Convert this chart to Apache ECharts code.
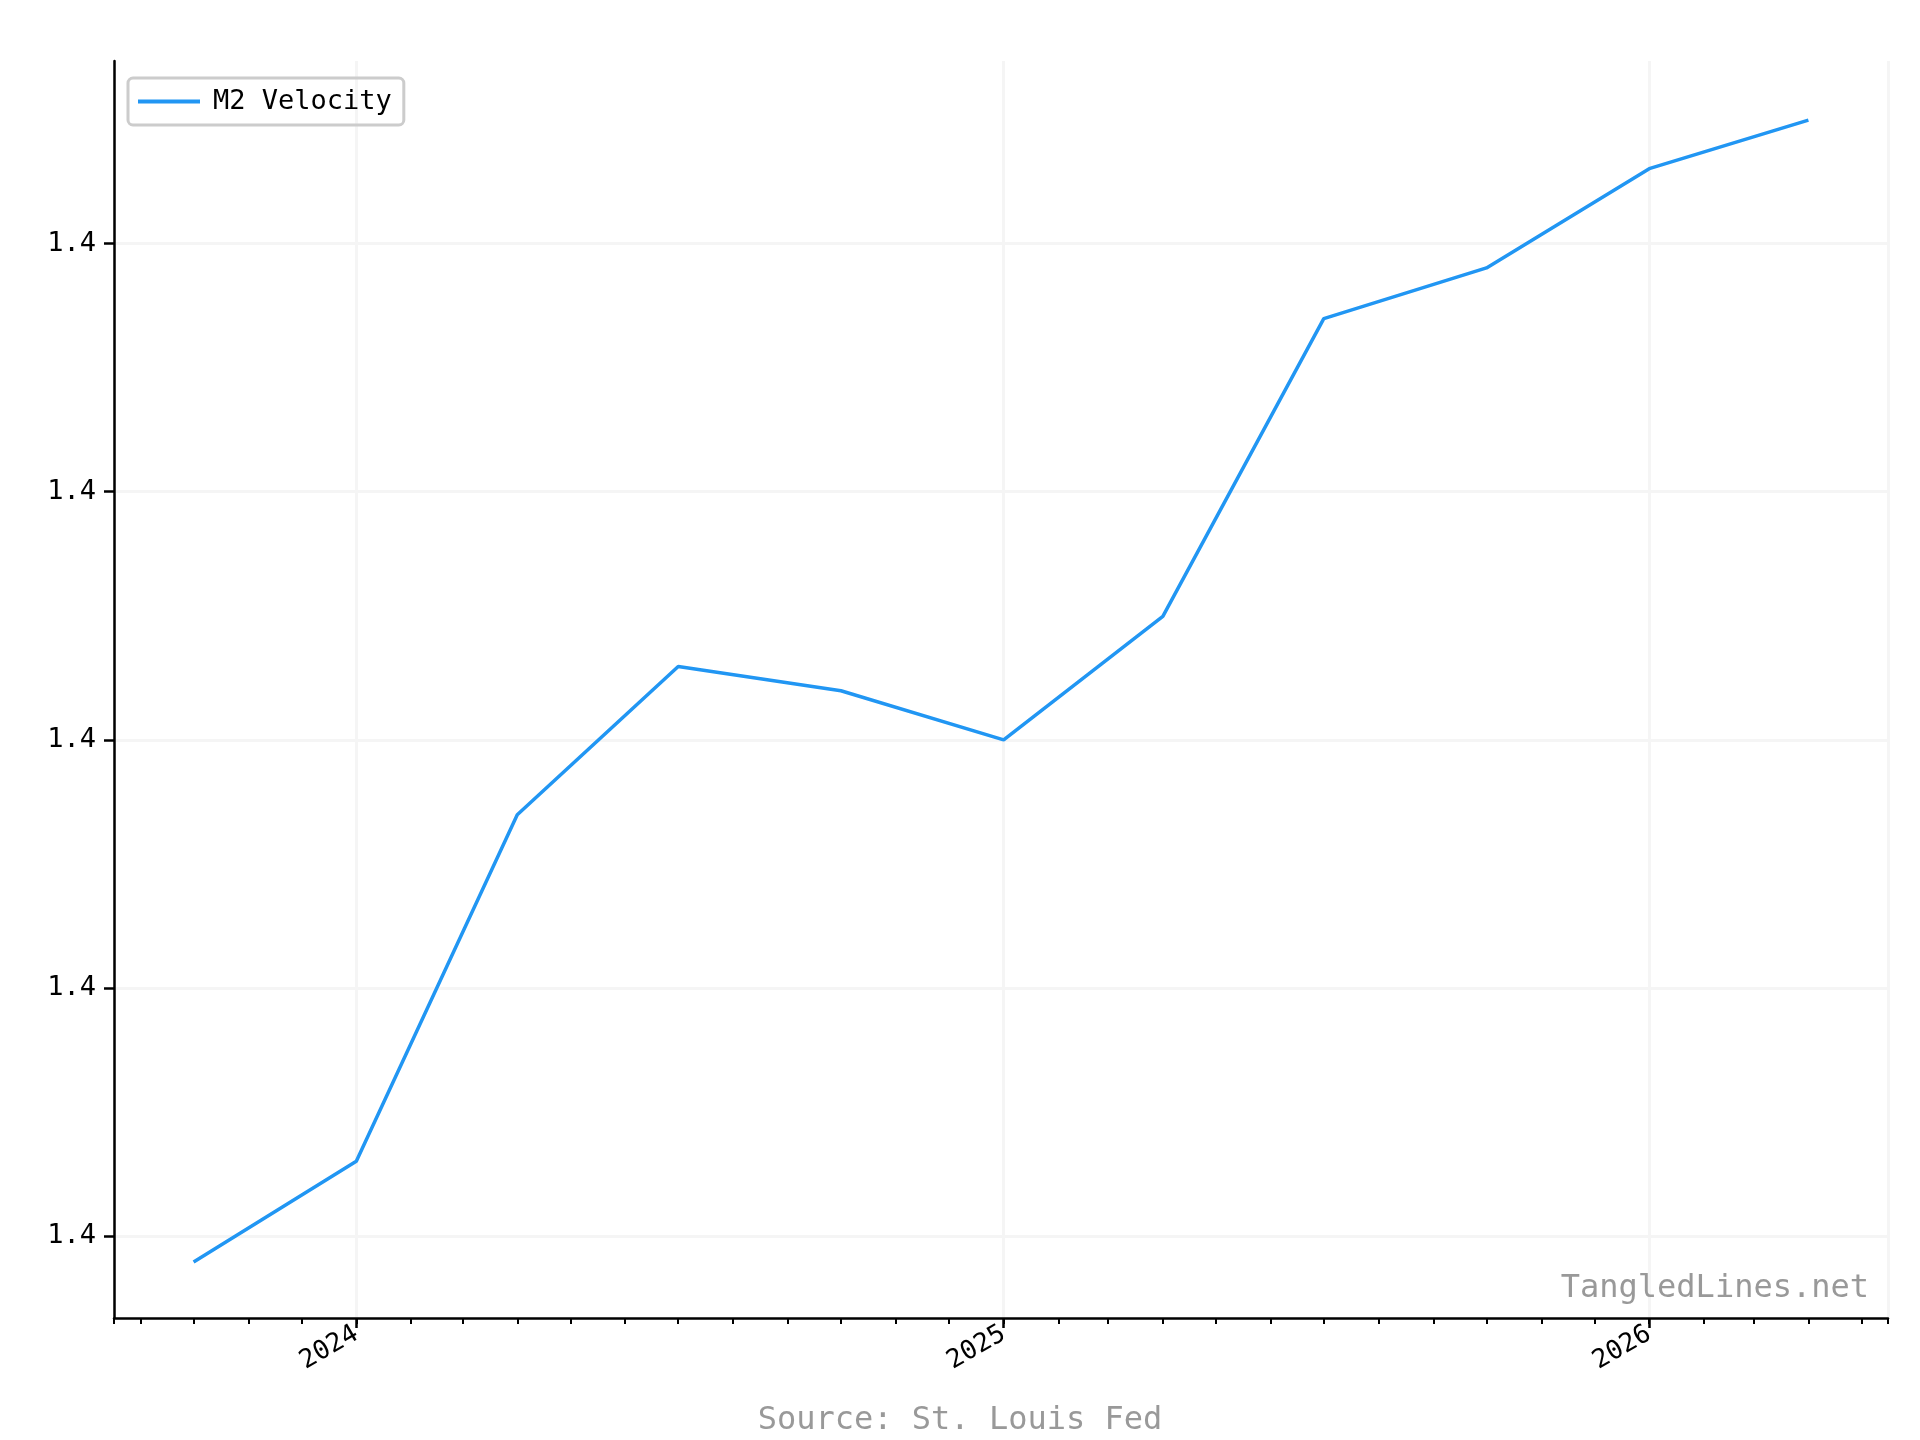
<!DOCTYPE html>
<html><head><meta charset="utf-8">
<script src="https://cdn.jsdelivr.net/npm/echarts@6/dist/echarts.min.js"></script>
<style>html,body{margin:0;padding:0;background:#fff}#c{width:1920px;height:1440px}</style>
</head><body><div id="c"></div>
<script>
const dates = ['2023-10-01','2024-01-01','2024-04-01','2024-07-01','2024-10-01','2025-01-01','2025-04-01','2025-07-01','2025-10-01','2026-01-01','2026-04-01'];
const velocity = [1.37948,1.38151,1.38849,1.39148,1.39099,1.39,1.39249,1.39849,1.39951,1.40151,1.40249];
const yTicks = [1.38,1.385,1.39,1.395,1.40];
const F = 'DejaVu Sans Mono, monospace';
const xmin = new Date('2023-08-17').getTime(), xmax = new Date('2026-05-16').getTime();
const chart = echarts.init(document.getElementById('c'));
chart.setOption({
  animation:false,
  grid:{left:114,right:32,top:61,bottom:122},
  legend:{left:128,top:78,orient:'vertical',padding:[10,12,10,10],borderColor:'#cccccc',borderWidth:3,borderRadius:5,
    itemWidth:62,itemHeight:4,itemGap:10,icon:'rect',textStyle:{fontFamily:F,fontSize:27,color:'#000',padding:[0,0,0,8]},data:['M2 Velocity']},
  title:[{text:'Source: St. Louis Fed',left:'center',top:1400,textStyle:{fontFamily:F,fontSize:32,color:'#999',fontWeight:'normal'}},
         {text:'TangledLines.net',right:46,top:1268,textStyle:{fontFamily:F,fontSize:32,color:'#999',fontWeight:'normal'}}],
  xAxis:[{type:'time',min:xmin,max:xmax,minInterval:365*86400000,maxInterval:366*86400000,
    axisLine:{lineStyle:{color:'#000',width:2.5}},
    axisTick:{length:10,lineStyle:{color:'#000',width:2.5}},
    axisLabel:{rotate:30,fontFamily:F,fontSize:26,color:'#000',formatter:v=>String(new Date(v).getFullYear()),margin:14},
    splitLine:{show:true,lineStyle:{color:'#f5f5f5',width:3}}},
   {type:'time',min:xmin,max:xmax,position:'bottom',minInterval:28*86400000,maxInterval:31*86400000,
    axisLine:{show:false},axisTick:{length:6,lineStyle:{color:'#000',width:2}},axisLabel:{show:false},splitLine:{show:false}}],
  yAxis:{type:'value',min:1.37835,max:1.40368,
    axisLine:{show:true,lineStyle:{color:'#000',width:2.5}},
    axisTick:{show:true,length:10,lineStyle:{color:'#000',width:2.5},customValues:yTicks},
    axisLabel:{fontFamily:F,fontSize:27,color:'#000',customValues:yTicks,formatter:v=>v.toFixed(1),margin:18},
    splitLine:{show:true,lineStyle:{color:'#f5f5f5',width:3}}},
  series:[{name:'M2 Velocity',type:'line',xAxisIndex:0,showSymbol:false,symbol:'none',
    lineStyle:{color:'#2196f3',width:3.5},itemStyle:{color:'#2196f3'},
    data:dates.map((d,i)=>[d,velocity[i]])}]
});
</script></body></html>
